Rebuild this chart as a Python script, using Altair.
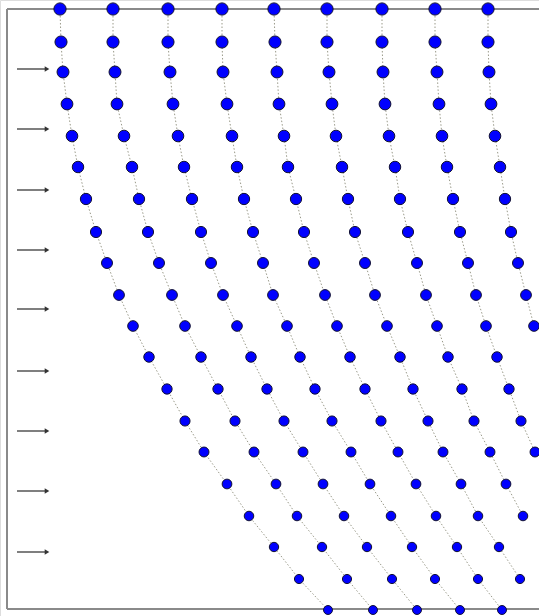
import altair as alt
import pandas as pd

# Row positions (vertical) of particles
rows_y = [9, 42, 72, 104, 136, 167, 199, 232, 263, 295, 326, 357, 389, 421, 452, 484, 516, 547, 579, 610]

# Horizontal positions of each particle column per row (None = out of view)
c1 = [60, 61, 63, 67, 72, 78, 86, 96, 107, 119, 133, 149, 167, 185, 204, 227, 249, 274, 299, 328]
c2 = [113, 113, 115, 117, 124, 132, 139, 148, 159, 172, 185, 201, 218, 235, 254, 276, 297, 322, 347, 373]
c3 = [168, 168, 170, 173, 178, 184, 192, 201, 211, 223, 237, 251, 267, 284, 303, 323, 344, 367, 392, 417]
c4 = [222, 222, 223, 227, 232, 237, 244, 253, 263, 273, 287, 300, 315, 332, 351, 370, 391, 412, 435, 460]
c5 = [274, 275, 277, 279, 284, 288, 296, 304, 314, 325, 337, 350, 365, 381, 398, 416, 436, 457, 478, 502]
c6 = [327, 327, 329, 332, 336, 342, 348, 355, 365, 375, 387, 400, 413, 428, 443, 461, 478, 499, 520]
c7 = [382, 382, 383, 385, 389, 395, 400, 408, 417, 426, 437, 448, 462, 474, 490, 506, 523]
c8 = [435, 435, 437, 439, 442, 447, 453, 460, 468, 476, 486, 497, 509, 521, 535]
c9 = [488, 488, 489, 491, 495, 500, 505, 511, 518, 526, 534]
columns = [c1, c2, c3, c4, c5, c6, c7, c8, c9]

# Arrow (flow direction) heights
arrow_y = [69, 129, 190, 250, 309, 371, 431, 491, 552]

W, H = 539, 616

recs = []
for ci, col in enumerate(columns):
    for ri, xv in enumerate(col):
        recs.append({"col": ci, "row": ri, "x": xv, "y": rows_y[ri]})
df = pd.DataFrame(recs)
arrows = pd.DataFrame({"y": arrow_y})

xs = alt.Scale(domain=[0, W], range=[0, W])
ys = alt.Scale(domain=[0, H], range=[0, H])

frame_color = "#8a8a8a"
left = alt.Chart(pd.DataFrame({"a": [0]})).mark_rule(color=frame_color, strokeWidth=2).encode(
    x=alt.value(7), y=alt.value(9), y2=alt.value(609))
top = alt.Chart(pd.DataFrame({"a": [0]})).mark_rule(color=frame_color, strokeWidth=2).encode(
    x=alt.value(7), x2=alt.value(W), y=alt.value(9))
bottom = alt.Chart(pd.DataFrame({"a": [0]})).mark_rule(color=frame_color, strokeWidth=2).encode(
    x=alt.value(7), x2=alt.value(W), y=alt.value(609))

arrow_shaft = alt.Chart(arrows).mark_rule(color="#555555", strokeWidth=1.5).encode(
    x=alt.value(17), x2=alt.value(46),
    y=alt.Y("y:Q", scale=ys, axis=None))
arrow_head = alt.Chart(arrows).mark_point(shape="triangle-right", filled=True, color="#333333",
                                          size=28, opacity=1).encode(
    x=alt.value(47),
    y=alt.Y("y:Q", scale=ys, axis=None))

lines = alt.Chart(df).mark_line(color="#9a9a8a", strokeWidth=1, strokeDash=[1.5, 2]).encode(
    x=alt.X("x:Q", scale=xs, axis=None),
    y=alt.Y("y:Q", scale=ys, axis=None),
    detail="col:N",
    order="row:Q")

dots = alt.Chart(df).mark_circle(color="#0000ff", stroke="#111133", strokeWidth=1, opacity=1).encode(
    x=alt.X("x:Q", scale=xs, axis=None),
    y=alt.Y("y:Q", scale=ys, axis=None),
    size=alt.Size("row:Q", scale=alt.Scale(domain=[0, 19], range=[150, 80]), legend=None))

chart = alt.layer(left, top, bottom, arrow_shaft, arrow_head, lines, dots).properties(
    width=W, height=H, padding=0, autosize=alt.AutoSizeParams(type="none")
).configure_view(stroke=None).configure(background="white")

chart.save("out.html", embed_options={"renderer": "svg", "actions": False})
